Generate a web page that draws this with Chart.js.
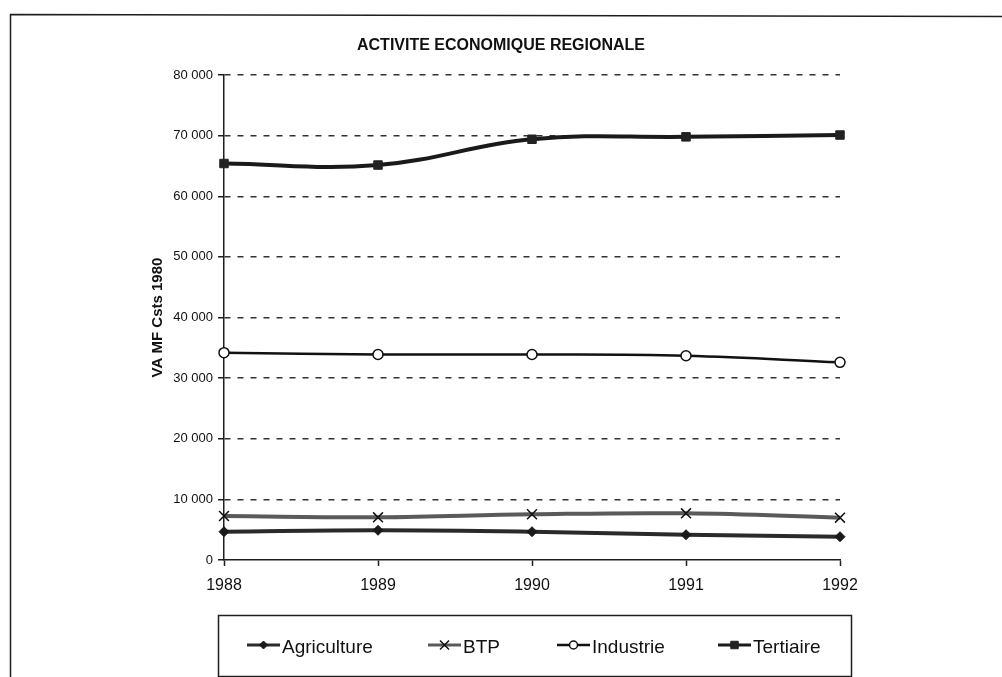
<!DOCTYPE html>
<html><head><meta charset="utf-8">
<script src="https://cdn.jsdelivr.net/npm/chart.js@4"></script>
<style>html,body{margin:0;padding:0;background:#fff;overflow:hidden}#wrap{width:1002px;height:677px;position:relative}</style>
</head><body><div id="wrap"><canvas id="c" width="1002" height="677"></canvas></div>
<script>
const titleText = 'ACTIVITE ECONOMIQUE REGIONALE';
const yAxisTitle = 'VA MF Csts 1980';
const years = ['1988', '1989', '1990', '1991', '1992'];
const agriculture = [4670, 4900, 4670, 4170, 3840];
const btp = [7260, 7040, 7540, 7700, 6980];
const industrie = [34200, 33900, 33900, 33700, 32600];
const tertiaire = [65400, 65150, 69400, 69800, 70100];
const yTickValues = [0, 10000, 20000, 30000, 40000, 50000, 60000, 70000, 80000];
const seriesNames = ['Agriculture', 'BTP', 'Industrie', 'Tertiaire'];

const FONT = '"Liberation Sans", Arial, sans-serif';
const INK = '#1e1e1e';

function fmt(v){ return String(v).replace(/\B(?=(\d{3})+(?!\d))/g, ' '); }

function drawMarker(ctx, style, x, y, r, fill, stroke, bw){
  ctx.save();
  ctx.lineWidth = bw; ctx.strokeStyle = stroke; ctx.fillStyle = fill;
  ctx.beginPath();
  if (style === 'rectRot'){
    ctx.moveTo(x, y - r); ctx.lineTo(x + r, y); ctx.lineTo(x, y + r); ctx.lineTo(x - r, y); ctx.closePath();
    ctx.fill(); ctx.stroke();
  } else if (style === 'crossRot'){
    const d = r * 0.75;
    ctx.moveTo(x - d, y - d); ctx.lineTo(x + d, y + d);
    ctx.moveTo(x + d, y - d); ctx.lineTo(x - d, y + d);
    ctx.stroke();
  } else if (style === 'circle'){
    ctx.arc(x, y, r, 0, Math.PI * 2); ctx.fill(); ctx.stroke();
  } else {
    ctx.rect(x - r * 0.75, y - r * 0.75, r * 1.5, r * 1.5); ctx.fill(); ctx.stroke();
  }
  ctx.restore();
}

const legendSlots = [247, 428, 557, 718];

const decor = {
  id: 'decor',
  afterDraw(chart){
    const ctx = chart.ctx;
    ctx.save();
    ctx.strokeStyle = INK; ctx.lineWidth = 1.5;
    ctx.beginPath(); ctx.moveTo(10.5, 690); ctx.lineTo(10.5, 14.5); ctx.lineTo(1010, 16.5); ctx.stroke();
    ctx.fillStyle = '#111';
    ctx.font = 'bold 16px ' + FONT; ctx.textAlign = 'center'; ctx.textBaseline = 'middle';
    ctx.fillText(titleText, 501, 46);
    ctx.lineWidth = 1.5;
    ctx.strokeRect(218.5, 615.5, 633, 61);
    ctx.font = '19px ' + FONT; ctx.textAlign = 'left'; ctx.textBaseline = 'alphabetic';
    chart.data.datasets.forEach((ds, i) => {
      const x = legendSlots[i], y = 645;
      ctx.strokeStyle = ds.borderColor; ctx.lineWidth = Math.min(ds.borderWidth, 3);
      ctx.beginPath(); ctx.moveTo(x, y); ctx.lineTo(x + 33, y); ctx.stroke();
      drawMarker(ctx, ds.pointStyle, x + 16.5, y, ds.legendR, ds.pointBackgroundColor, ds.pointBorderColor, ds.pointBorderWidth);
      ctx.fillStyle = '#111';
      ctx.fillText(ds.label, x + 35, 653);
    });
    ctx.restore();
  }
};

new Chart(document.getElementById('c'), {
  type: 'line',
  data: {
    labels: years,
    datasets: [
      { label: seriesNames[0], data: agriculture, borderColor: '#2a2a2a', borderWidth: 4, tension: 0.4,
        pointStyle: 'rectRot', pointRadius: 5, pointBackgroundColor: '#1a1a1a', pointBorderColor: '#1a1a1a', pointBorderWidth: 1, legendR: 4 },
      { label: seriesNames[1], data: btp, borderColor: '#5a5a5a', borderWidth: 4, tension: 0.4,
        pointStyle: 'crossRot', pointRadius: 7, pointBackgroundColor: '#111', pointBorderColor: '#111', pointBorderWidth: 1.5, legendR: 6 },
      { label: seriesNames[2], data: industrie, borderColor: '#111', borderWidth: 2.5, tension: 0.4,
        pointStyle: 'circle', pointRadius: 5, pointBackgroundColor: '#fff', pointBorderColor: '#111', pointBorderWidth: 1.5, legendR: 4 },
      { label: seriesNames[3], data: tertiaire, borderColor: '#1a1a1a', borderWidth: 4, tension: 0.4,
        pointStyle: 'rect', pointRadius: 6, pointBackgroundColor: '#222', pointBorderColor: '#222', pointBorderWidth: 1, legendR: 5 }
    ]
  },
  options: {
    responsive: false,
    animation: false,
    devicePixelRatio: 1,
    layout: { padding: { left: 144.5, top: 75, right: 162, bottom: 0 } },
    plugins: { legend: { display: false }, title: { display: false }, tooltip: { enabled: false } },
    scales: {
      x: {
        offset: false,
        grid: { display: true, drawOnChartArea: false, drawTicks: true, tickLength: 6, tickColor: INK, tickWidth: 1.5 },
        border: { display: true, color: INK, width: 1.5 },
        ticks: { color: '#111', font: { family: FONT, size: 16 }, padding: 10, maxRotation: 0 },
        afterFit(s){ s.height = 117; }
      },
      y: {
        min: 0, max: 80000,
        afterBuildTicks(s){ s.ticks = yTickValues.map(v => ({ value: v })); },
        grid: { color: (c) => c.tick && c.tick.value === 0 ? 'rgba(0,0,0,0)' : '#333', lineWidth: 1.5,
                drawTicks: true, tickLength: 6, tickColor: INK, tickWidth: 1.5 },
        border: { display: true, color: INK, width: 1.5, dash: [6, 7] },
        ticks: { color: '#111', font: { family: FONT, size: 13 }, padding: 5, callback: (v) => fmt(v) },
        title: { display: true, text: yAxisTitle, color: '#111', font: { family: FONT, size: 15, weight: 'bold' }, padding: { top: 4, bottom: 4 } },
        afterFit(s){ s.width = 79.5; }
      }
    }
  },
  plugins: [decor]
});
</script>
</body></html>
